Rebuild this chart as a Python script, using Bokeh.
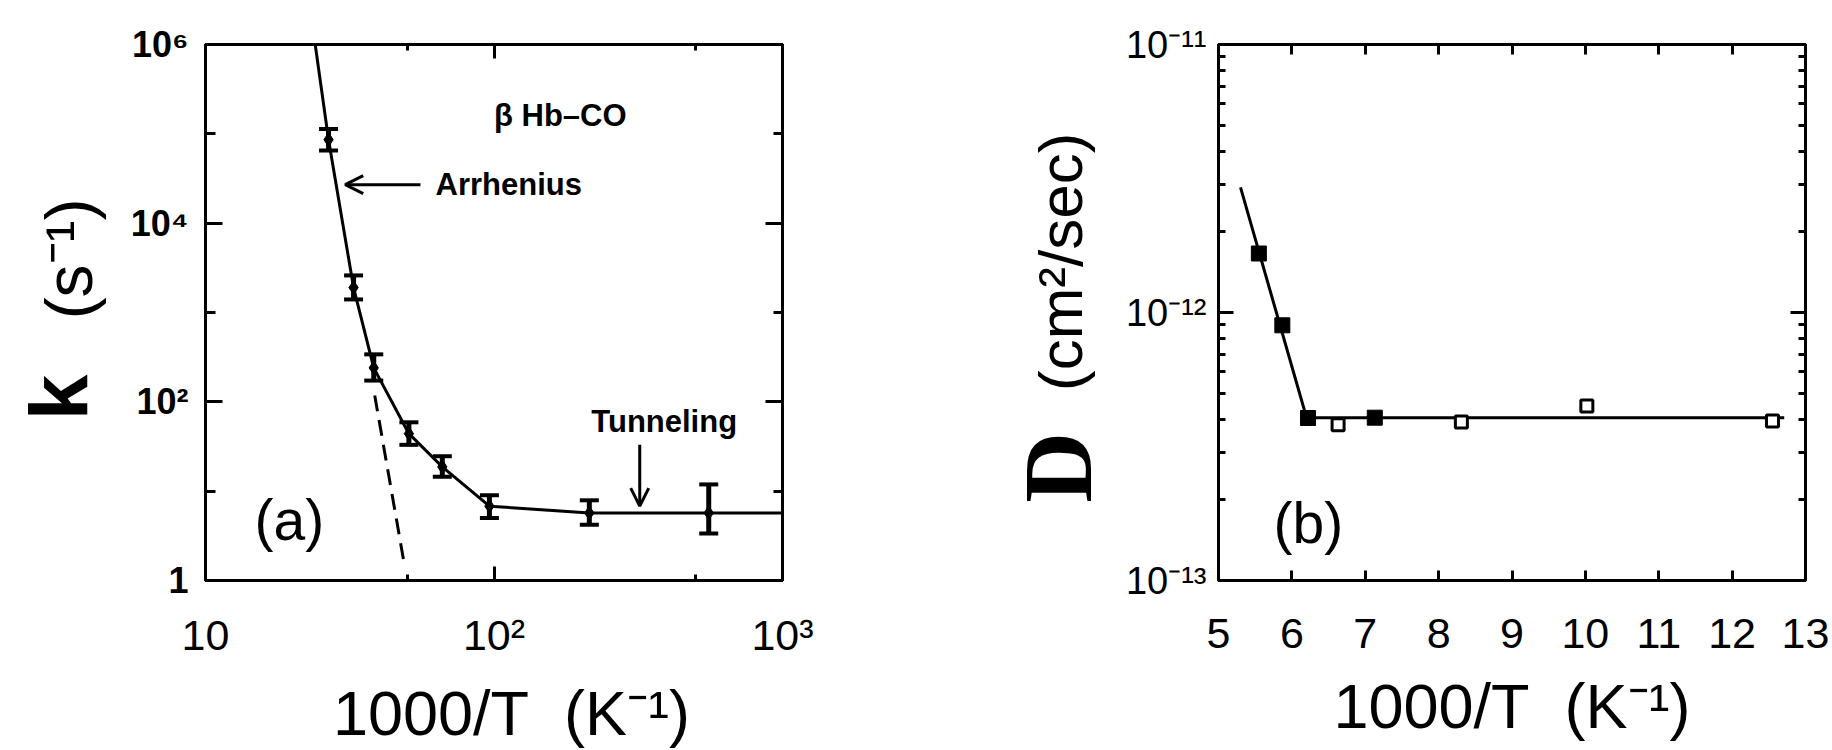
import math
from bokeh.plotting import figure
from bokeh.models import (LogAxis, LinearAxis, Range1d, Label, Arrow, OpenHead,
                          Whisker, TeeHead, ColumnDataSource, FixedTicker,
                          CustomJSTickFormatter)
from bokeh.layouts import row
from bokeh.embed import file_html
from bokeh.resources import INLINE

# ---------------- data: panel (a) ----------------
invT_a = [26.7, 32.6, 38.3, 50.7, 66.2, 96.4, 214, 555]
k_a = [8.6e4, 1.9e3, 240, 44, 18.7, 6.8, 5.7, 5.7]
k_hi = [1.13e5, 2.6e3, 340, 59, 24.6, 9.0, 7.9, 11.9]
k_lo = [6.5e4, 1.4e3, 173, 33, 14.5, 5.0, 4.2, 3.36]
fit_a_x = [24.0, 26.7, 32.6, 38.3, 50.7, 66.2, 96.4, 214, 555, 1000]
fit_a_y = [1e6, 8.6e4, 1.9e3, 240, 44, 18.7, 6.8, 5.7, 5.7, 5.7]
arrh_x = [38.6, 49.1]
arrh_y = [118, 1.4]
a_y_major = [1, 100, 1e4, 1e6]
a_y_minor = [10, 1e3, 1e5]
a_x_major = [10, 100, 1000]
a_x_minor = [50, 500]

# ---------------- data: panel (b) ----------------
invT_b_filled = [5.55, 5.87, 6.22, 7.13]
D_filled = [1.66e-12, 8.96e-13, 4.04e-13, 4.05e-13]
invT_b_open = [6.63, 8.31, 10.02, 12.55]
D_open = [3.81e-13, 3.9e-13, 4.48e-13, 3.94e-13]
fit_b_x = [5.30, 6.2, 12.71]
fit_b_y = [2.93e-12, 4.05e-13, 4.05e-13]
b_y_major = [1e-13, 1e-12, 1e-11]
b_y_minor = [m * d for d in (1e-13, 1e-12) for m in range(2, 10)]
b_x_ticks = list(range(5, 14))

FONT = "Liberation Sans"
LW = 3
H = 750
TOP = 44
BOTTOM = 161

SUP_JS = """
const sup = {"0":"\u2070","1":"\u00b9","2":"\u00b2","3":"\u00b3","4":"\u2074",
             "5":"\u2075","6":"\u2076","7":"\u2077","8":"\u2078","9":"\u2079","-":"\u207b"};
const lg = Math.log10(tick);
const e = Math.round(lg);
if (Math.abs(lg - e) > 1e-6) return "";
const s = String(e).split("").map(c => sup[c]).join("");
"""
fmt_a_y = CustomJSTickFormatter(code=SUP_JS + """
if (e === 0) return "1";
return "10" + s;
""")
fmt_a_x = CustomJSTickFormatter(code=SUP_JS + """
if (e === 1) return "10";
return "10" + s;
""")
fmt_b_y = CustomJSTickFormatter(code=SUP_JS + """
return "10" + s;
""")
blank = CustomJSTickFormatter(code="return '';")


def style_axis(ax, label_size="10px", bold=False, tin=14, mtin=7):
    ax.axis_line_width = LW
    ax.axis_line_color = "black"
    ax.major_tick_in = tin
    ax.major_tick_out = 0
    ax.major_tick_line_width = LW
    ax.major_tick_line_color = "black"
    ax.minor_tick_in = mtin
    ax.minor_tick_out = 0
    ax.minor_tick_line_width = LW
    ax.minor_tick_line_color = "black"
    ax.major_label_text_font = FONT
    ax.major_label_text_font_size = label_size
    ax.major_label_text_font_style = "bold" if bold else "normal"
    ax.major_label_text_color = "black"


def style_title(ax, text, standoff):
    ax.axis_label = text
    ax.axis_label_text_font = FONT
    ax.axis_label_text_font_size = "63px"
    ax.axis_label_text_font_style = "normal"
    ax.axis_label_text_color = "black"
    ax.axis_label_standoff = standoff


def label_panel(width):
    # data units of this panel = pixels, y measured upward from the page bottom
    f = figure(width=width, height=H, x_range=Range1d(0, width),
               y_range=Range1d(BOTTOM, H - TOP),
               x_axis_location=None, y_axis_location=None,
               output_backend="svg", toolbar_location=None,
               min_border_left=0, min_border_right=0, min_border_top=TOP,
               min_border_bottom=BOTTOM)
    f.grid.visible = False
    f.outline_line_color = None
    return f


TITLE_A = "\u00a0\u00a01000/T\u00a0\u00a0(K\u207b\u00b9)"
TITLE_B = "1000/T\u00a0\u00a0(K\u207b\u00b9)"

# ================= y-axis title panel for (a) =================
la = label_panel(120)
la.add_layout(Label(x=58, y=H - 403, text="k", angle=math.pi / 2, text_font=FONT,
                    text_font_size="82px", text_font_style="bold",
                    text_color="black", text_align="center", text_baseline="middle"))
la.add_layout(Label(x=68, y=H - 262, text="(s\u207b\u00b9)", angle=math.pi / 2,
                    text_font=FONT, text_font_size="66px", text_color="black",
                    text_align="center", text_baseline="middle"))

# ================= panel (a) =================
p1 = figure(width=700, height=H, x_axis_type="log", y_axis_type="log",
            x_range=Range1d(10, 1000), y_range=Range1d(1, 1e6),
            output_backend="svg", toolbar_location=None,
            min_border_left=85, min_border_right=38,
            min_border_top=TOP, min_border_bottom=BOTTOM)
p1.grid.visible = False
p1.outline_line_color = "black"
p1.outline_line_width = LW

ya = p1.yaxis[0]
ya.ticker = FixedTicker(ticks=a_y_major, minor_ticks=a_y_minor)
ya.formatter = fmt_a_y
style_axis(ya, "36px", bold=True, tin=17, mtin=10)
ya.major_label_standoff = 17

xa = p1.xaxis[0]
xa.ticker = FixedTicker(ticks=a_x_major, minor_ticks=a_x_minor)
xa.formatter = fmt_a_x
style_axis(xa, "43px", tin=14, mtin=6)
xa.major_label_standoff = 30
style_title(xa, TITLE_A, 16)

ra = LogAxis(ticker=FixedTicker(ticks=a_y_major, minor_ticks=a_y_minor), formatter=blank)
style_axis(ra, tin=17, mtin=9)
p1.add_layout(ra, "right")
ta = LogAxis(ticker=FixedTicker(ticks=a_x_major, minor_ticks=a_x_minor), formatter=blank)
style_axis(ta, tin=14, mtin=6)
p1.add_layout(ta, "above")

p1.line(fit_a_x, fit_a_y, line_color="black", line_width=LW)
p1.line(arrh_x, arrh_y, line_color="black", line_width=LW, line_dash="16 9")

src_a = ColumnDataSource(dict(x=invT_a, y=k_a, hi=k_hi, lo=k_lo))
p1.add_layout(Whisker(source=src_a, base="x", upper="hi", lower="lo",
                      dimension="height", line_width=5, line_color="black",
                      upper_head=TeeHead(size=19, line_width=4),
                      lower_head=TeeHead(size=19, line_width=4)))
p1.scatter("x", "y", source=src_a, marker="diamond", size=14, color="black")

p1.add_layout(Label(x=100, y=1.6e5, text="\u03b2  Hb\u2013CO", text_font=FONT,
                    text_font_size="31px", text_font_style="bold", text_color="black",
                    text_baseline="middle", text_align="left"))
p1.add_layout(Arrow(x_start=55.6, y_start=2.7e4, x_end=30.5, y_end=2.7e4,
                    line_width=LW, end=OpenHead(size=18, line_width=LW)))
p1.add_layout(Label(x=62.7, y=2.7e4, text="Arrhenius", text_font=FONT,
                    text_font_size="31px", text_font_style="bold", text_color="black",
                    text_baseline="middle", text_align="left"))
p1.add_layout(Label(x=389, y=60, text="Tunneling", text_font=FONT,
                    text_font_size="31px", text_font_style="bold", text_color="black",
                    text_baseline="middle", text_align="center"))
p1.add_layout(Arrow(x_start=320, y_start=33, x_end=320, y_end=6.8,
                    line_width=LW, end=OpenHead(size=18, line_width=LW)))
p1.add_layout(Label(x=14.8, y=4.7, text="(a)", text_font=FONT,
                    text_font_size="57px", text_color="black",
                    text_baseline="middle", text_align="left"))

# ================= y-axis title panel for (b) =================
lb = label_panel(280)
lb.add_layout(Label(x=237, y=H - 474, text="D", angle=math.pi / 2,
                    text_font="Liberation Serif", text_font_size="98px",
                    text_font_style="bold", text_color="black",
                    text_align="center", text_baseline="middle"))
lb.add_layout(Label(x=240, y=H - 265, text="(cm\u00b2/sec)", angle=math.pi / 2,
                    text_font=FONT, text_font_size="62px", text_color="black",
                    text_align="center", text_baseline="middle"))

# ================= panel (b) =================
p2 = figure(width=732, height=H, y_axis_type="log",
            x_range=Range1d(5, 13), y_range=Range1d(1e-13, 1e-11),
            output_backend="svg", toolbar_location=None,
            min_border_left=118, min_border_right=27,
            min_border_top=TOP, min_border_bottom=BOTTOM)
p2.grid.visible = False
p2.outline_line_color = "black"
p2.outline_line_width = LW

yb = p2.yaxis[0]
yb.ticker = FixedTicker(ticks=b_y_major, minor_ticks=b_y_minor)
yb.formatter = fmt_b_y
style_axis(yb, "38px", tin=15, mtin=7)
yb.major_label_standoff = 12

xb = p2.xaxis[0]
xb.ticker = FixedTicker(ticks=b_x_ticks, minor_ticks=[])
style_axis(xb, "43px", tin=10, mtin=0)
xb.major_label_standoff = 38
style_title(xb, TITLE_B, 20)

rb = LogAxis(ticker=FixedTicker(ticks=b_y_major, minor_ticks=b_y_minor), formatter=blank)
style_axis(rb, tin=15, mtin=7)
p2.add_layout(rb, "right")
tb = LinearAxis(ticker=FixedTicker(ticks=b_x_ticks, minor_ticks=[]), formatter=blank)
style_axis(tb, tin=10, mtin=0)
p2.add_layout(tb, "above")

p2.line(fit_b_x, fit_b_y, line_color="black", line_width=LW)
p2.scatter(invT_b_filled, D_filled, marker="square", size=15, color="black")
p2.scatter(invT_b_open, D_open, marker="square", size=12, fill_color="white",
           line_color="black", line_width=3)

p2.add_layout(Label(x=5.75, y=1.64e-13, text="(b)", text_font=FONT,
                    text_font_size="57px", text_color="black",
                    text_baseline="middle", text_align="left"))

layout = row(la, p1, lb, p2)
open("out.html", "w").write(file_html(layout, INLINE))
